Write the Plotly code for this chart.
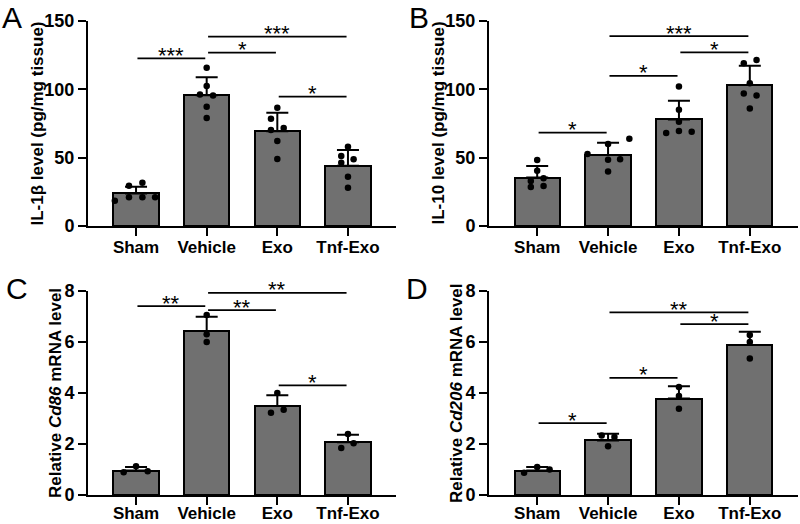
import plotly.graph_objects as go

W, H = 800, 524

groups = ["Sham", "Vehicle", "Exo", "Tnf-Exo"]

# Panel A: IL-1β
a_mean = [23.8, 95.6, 69.3, 44.1]
a_sd = [5.0, 13.2, 13.6, 11.5]
a_pts = [[18.5, 21, 21, 21, 29.5, 31.7],
         [115.8, 102.4, 96.3, 95.4, 87.3, 79.0],
         [86.6, 78.5, 71.7, 70.2, 62.2, 49.0],
         [58.0, 51.2, 48.8, 46.3, 36.1, 28.0]]
a_sig = [(0, 1, 122.7, "***"), (1, 2, 126.8, "*"), (1, 3, 138.5, "***"), (2, 3, 94.6, "*")]

# Panel B: IL-10
b_mean = [35.4, 52.0, 78.0, 103.2]
b_sd = [8.5, 9.0, 13.7, 14.1]
b_pts = [[48.3, 40.5, 35.0, 33.0, 28.5, 29.3],
         [52.7, 60.0, 63.9, 48.5, 48.8, 39.8],
         [102.0, 85.0, 76.3, 68.0, 69.5, 69.0],
         [119.0, 121.5, 104.4, 97.0, 95.4, 86.0]]
b_sig = [(0, 1, 68.3, "*"), (1, 2, 109.8, "*"), (1, 3, 139.0, "***"), (2, 3, 127.0, "*")]

# Panel C: Cd86
c_mean = [0.96, 6.43, 3.49, 2.07]
c_sd = [0.14, 0.56, 0.42, 0.29]
c_pts = [[0.89, 1.13, 0.93],
         [7.06, 6.30, 6.00],
         [4.00, 3.23, 3.34],
         [2.39, 1.84, 2.03]]
c_sig = [(0, 1, 7.41, "**"), (1, 2, 7.25, "**"), (1, 3, 7.93, "**"), (2, 3, 4.30, "*")]

# Panel D: Cd206
d_mean = [0.96, 2.14, 3.78, 5.88]
d_sd = [0.14, 0.26, 0.48, 0.52]
d_pts = [[0.87, 1.10, 1.00],
         [2.33, 2.27, 1.91],
         [4.24, 3.88, 3.38],
         [6.27, 6.00, 5.35]]
d_sig = [(0, 1, 2.82, "*"), (1, 2, 4.59, "*"), (1, 3, 7.16, "**"), (2, 3, 6.70, "*")]

# horizontal jitter of the scatter dots (category units)
a_jit = [[-0.30, -0.10, 0.09, 0.27, -0.10, 0.09],
         [0, 0, -0.095, 0.09, 0, 0],
         [0, -0.09, 0.09, -0.09, 0, 0],
         [0, -0.095, 0.08, -0.095, 0, 0]]
b_jit = [[0, 0, 0.09, -0.09, -0.09, 0.09],
         [-0.29, 0, 0.30, 0, 0.17, 0],
         [0, 0, 0, -0.18, 0, 0.18],
         [-0.085, 0.095, 0, -0.085, 0.095, 0]]
c_jit = [[-0.175, 0, 0.165], [0, 0, 0], [0, -0.09, 0.09], [0, -0.095, 0.08]]
d_jit = [[-0.185, 0, 0.175], [-0.09, 0.09, 0], [0, 0, 0], [0, 0, 0]]

panels = [
    dict(letter="A", mean=a_mean, sd=a_sd, pts=a_pts, jit=a_jit, sig=a_sig,
         title="IL-1β level (pg/mg tissue)", yr=[0, 150], dt=50,
         px=(88, 396), py=(21, 226), tx=37, lx=(12, 0), so=-3),
    dict(letter="B", mean=b_mean, sd=b_sd, pts=b_pts, jit=b_jit, sig=b_sig,
         title="IL-10 level (pg/mg tissue)", yr=[0, 150], dt=50,
         px=(489, 798), py=(21, 226), tx=438, lx=(419, 0), so=-3),
    dict(letter="C", mean=c_mean, sd=c_sd, pts=c_pts, jit=c_jit, sig=c_sig,
         title="Relative <i>Cd86</i> mRNA level", yr=[0, 8], dt=2,
         px=(88, 396), py=(291, 495), tx=55, lx=(17, 271), so=-6),
    dict(letter="D", mean=d_mean, sd=d_sd, pts=d_pts, jit=d_jit, sig=d_sig,
         title="Relative <i>Cd206</i> mRNA level", yr=[0, 8], dt=2,
         px=(489, 798), py=(291, 495), tx=456, lx=(417, 271), so=-6),
]

FONT = "Liberation Sans, Arial, sans-serif"
BAR_COLOR = "#707070"

fig = go.Figure()
shapes = []
annotations = []

for k, p in enumerate(panels):
    sfx = "" if k == 0 else str(k + 1)
    xa, ya = "x" + sfx, "y" + sfx
    xs = list(range(len(groups)))
    fig.add_trace(go.Bar(
        x=xs, y=p["mean"], width=0.64, xaxis=xa, yaxis=ya,
        marker=dict(color=BAR_COLOR, line=dict(color="black", width=2)),
        error_y=dict(type="data", symmetric=False, array=p["sd"],
                     arrayminus=[0] * 4, color="black", thickness=2, width=11),
        showlegend=False, hoverinfo="skip"))
    px_, py_ = [], []
    for i, (vals, jit) in enumerate(zip(p["pts"], p["jit"])):
        for v, j in zip(vals, jit):
            px_.append(i + j)
            py_.append(v)
    fig.add_trace(go.Scatter(
        x=px_, y=py_, mode="markers", xaxis=xa, yaxis=ya,
        marker=dict(color="black", size=6.5),
        showlegend=False, hoverinfo="skip", cliponaxis=False))

    x0, x1 = p["px"]
    y0, y1 = p["py"]
    fig.layout["xaxis" + sfx] = dict(
        domain=[x0 / W, x1 / W], anchor=ya, range=[-0.68, 3.68],
        tickmode="array", tickvals=xs, ticktext=groups,
        showline=True, linecolor="black", linewidth=2,
        ticks="outside", ticklen=8, tickwidth=2, tickcolor="black",
        ticklabelstandoff=p["so"],
        showgrid=False, zeroline=False, automargin=False,
        tickfont=dict(family=FONT, size=17, color="black", weight="bold"))
    fig.layout["yaxis" + sfx] = dict(
        domain=[1 - y1 / H, 1 - y0 / H], anchor=xa, range=p["yr"],
        tickmode="linear", tick0=0, dtick=p["dt"],
        showline=True, linecolor="black", linewidth=2,
        ticks="outside", ticklen=8, tickwidth=2, tickcolor="black",
        showgrid=False, zeroline=False, automargin=False,
        tickfont=dict(family=FONT, size=18, color="black", weight="bold"))

    for (i, j, yv, lab) in p["sig"]:
        shapes.append(dict(type="line", xref=xa, yref=ya,
                           x0=i + 0.02, x1=j - 0.02, y0=yv, y1=yv,
                           line=dict(color="black", width=1.8)))
        annotations.append(dict(xref=xa, yref=ya, x=(i + j) / 2, y=yv,
                                text=lab, showarrow=False, xanchor="center",
                                yanchor="middle", yshift=3,
                                font=dict(family=FONT, size=22, color="black")))

    annotations.append(dict(xref="paper", yref="paper",
                            x=p["tx"] / W, y=1 - (y0 + y1) / 2 / H,
                            text=p["title"], textangle=-90, showarrow=False,
                            xanchor="center", yanchor="middle",
                            font=dict(family=FONT, size=17, color="black", weight="bold")))
    annotations.append(dict(xref="paper", yref="paper",
                            x=p["lx"][0] / W, y=1 - p["lx"][1] / H,
                            text=p["letter"], showarrow=False, borderpad=0,
                            xanchor="center", yanchor="top",
                            font=dict(family=FONT, size=30, color="black")))

fig.update_layout(width=W, height=H,
                  margin=dict(l=0, r=0, t=0, b=0, pad=0, autoexpand=False),
                  paper_bgcolor="white", plot_bgcolor="white",
                  shapes=shapes, annotations=annotations, bargap=0)

fig.write_html("out.html", config={"displayModeBar": False},
               post_script="document.body.style.margin='0';document.body.style.overflow='hidden';")
